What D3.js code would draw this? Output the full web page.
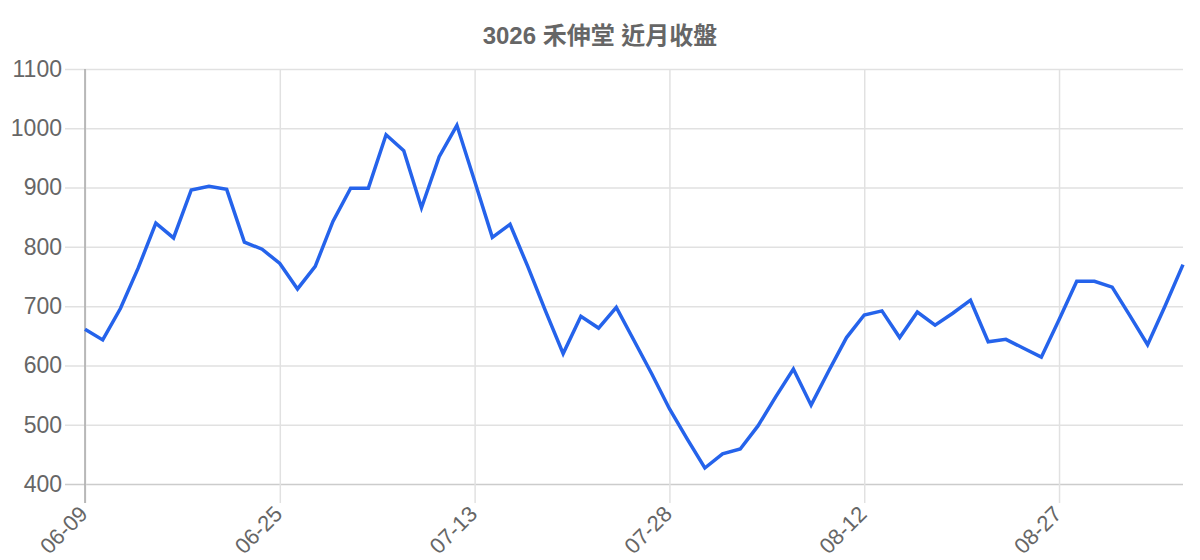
<!DOCTYPE html>
<html>
<head>
<meta charset="utf-8">
<script src="https://cdn.jsdelivr.net/npm/d3@7"></script>
<style>
  html, body { margin: 0; padding: 0; background: #fff; }
  svg { display: block; font-family: "Liberation Sans", Arial, "Noto Sans CJK TC", sans-serif; }
</style>
</head>
<body>
<svg id="chart" width="1200" height="560"></svg>
<script>
const title = "3026 禾伸堂 近月收盤";
const dates = ["06-09","06-10","06-11","06-12","06-15","06-16","06-17","06-18","06-22","06-23","06-24","06-25",
  "06-26","06-29","06-30","07-01","07-02","07-03","07-06","07-07","07-08","07-09","07-13",
  "07-14","07-15","07-16","07-17","07-20","07-21","07-22","07-23","07-24","07-27","07-28",
  "07-29","07-30","07-31","08-03","08-04","08-05","08-06","08-07","08-10","08-11","08-12",
  "08-13","08-14","08-17","08-18","08-19","08-20","08-21","08-24","08-25","08-26","08-27",
  "08-28","08-31","09-01","09-02","09-03","09-04","09-07"];
const closes = [661,643,696,764,840,815,896,902,897,808,796,772,729,767,843,899,899,989,962,866,
  952,1005,911,816,838,767,692,620,683,663,698,642,586,527,476,427,451,459,498,547,594,533,591,
  647,685,692,647,690,668,688,710,640,644,629,614,677,742,742,732,684,635,701,770];
const yTicks = [400,500,600,700,800,900,1000,1100];
const xTickLabels = ["06-09","06-25","07-13","07-28","08-12","08-27"];

const svg = d3.select("#chart");
const pL = 85, pR = 1183, pT = 69, pB = 484;
const x = d3.scalePoint().domain(dates).range([pL, pR]);
const y = d3.scaleLinear().domain([400, 1100]).range([pB, pT]);

// title
svg.append("text").attr("x", 600).attr("y", 44).attr("text-anchor", "middle")
  .attr("fill", "#666").attr("font-size", 24).attr("font-weight", "bold").text(title);

// y axis (grid + labels)
const yAxis = d3.axisLeft(y).tickValues(yTicks).tickFormat(d3.format("d")).tickSize(20).tickPadding(3);
const gy = svg.append("g").attr("transform", `translate(${pL},0)`).call(yAxis);
gy.select(".domain").remove();
gy.selectAll(".tick line").attr("stroke", "#e1e1e1").attr("stroke-width", 1.5)
  .attr("x2", -20).attr("x1", pR - pL);
gy.selectAll(".tick text").attr("fill", "#666").attr("font-size", 23)
  .attr("font-family", "Liberation Sans, Arial, sans-serif");
gy.selectAll(".tick").filter(d => d === 400).select("line").attr("stroke", "#cccccc");

// x axis (grid + labels)
const xAxis = d3.axisBottom(x).tickValues(xTickLabels).tickSize(19).tickPadding(0);
const gx = svg.append("g").attr("transform", `translate(0,${pB})`).call(xAxis);
gx.select(".domain").remove();
gx.selectAll(".tick line").attr("stroke", "#e1e1e1").attr("stroke-width", 1.5)
  .attr("y1", -(pB - pT)).attr("y2", 19);
gx.selectAll(".tick text").attr("fill", "#666").attr("font-size", 22)
  .attr("font-family", "Liberation Sans, Arial, sans-serif")
  .attr("text-anchor", "end").attr("dy", "0.35em").attr("y", 0)
  .attr("transform", "translate(-2,26) rotate(-45)");

// left axis line
svg.append("line").attr("x1", pL).attr("x2", pL).attr("y1", pT).attr("y2", pB + 19)
  .attr("stroke", "#aaaaaa").attr("stroke-width", 1.5);

// line
const line = d3.line().x((d, i) => x(dates[i])).y(d => y(d));
svg.append("path").datum(closes).attr("d", line).attr("fill", "none")
  .attr("stroke", "#2563eb").attr("stroke-width", 3.5).attr("stroke-linejoin", "miter");
</script>
</body>
</html>
